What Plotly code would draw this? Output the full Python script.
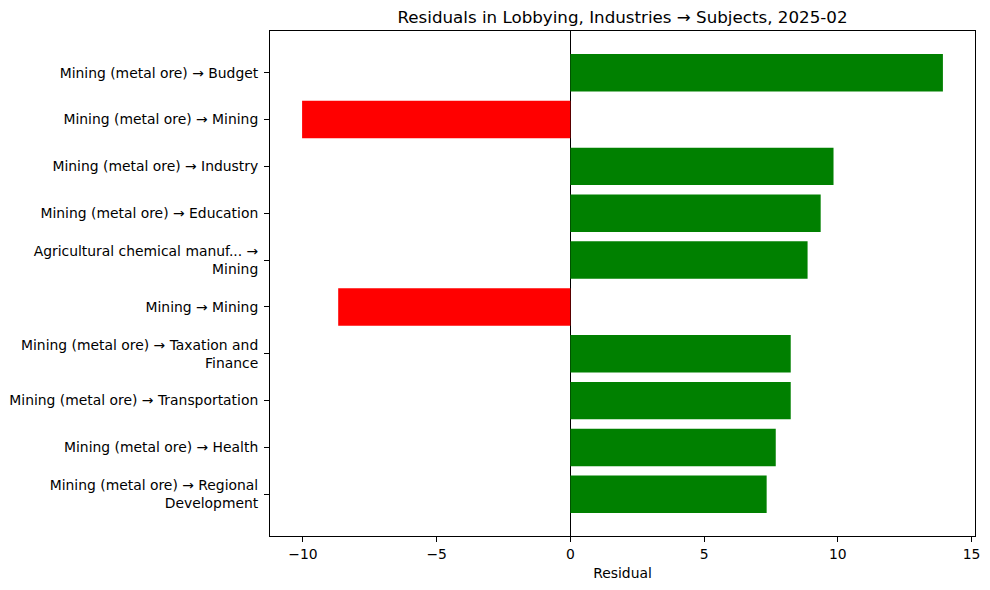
import plotly.graph_objects as go

# top to bottom, as drawn
labels = [
    'Mining (metal ore) → Budget',
    'Mining (metal ore) → Mining',
    'Mining (metal ore) → Industry',
    'Mining (metal ore) → Education',
    'Agricultural chemical manuf... →<br>Mining',
    'Mining → Mining',
    'Mining (metal ore) → Taxation and<br>Finance',
    'Mining (metal ore) → Transportation',
    'Mining (metal ore) → Health',
    'Mining (metal ore) → Regional<br>Development',
]
residuals = [13.93, -10.03, 9.84, 9.36, 8.87, -8.68, 8.24, 8.24, 7.68, 7.34]
tickVals = [-10, -5, 0, 5, 10, 15]
tickText = ['−10', '−5', '0', '5', '10', '15']

barColors = ['green' if r > 0 else 'red' for r in residuals]

fig = go.Figure()
fig.add_trace(go.Bar(x=residuals, y=list(range(len(labels))), orientation='h',
                     marker=dict(color=barColors, line=dict(width=0)),
                     width=0.8, showlegend=False))

fig.update_xaxes(range=[-11.23, 15.13], tickvals=tickVals, ticktext=tickText,
                 showgrid=False, zeroline=True, zerolinecolor='black', zerolinewidth=1,
                 showline=True, mirror=True, linecolor='black', linewidth=1,
                 ticks='outside', ticklen=5, tickcolor='black', automargin=False,
                 title=dict(text='Residual', standoff=7, font=dict(size=13.9)))
fig.update_yaxes(range=[9.89, -0.89], tickvals=list(range(len(labels))), ticktext=labels,
                 showgrid=False, zeroline=False, automargin=False,
                 showline=True, mirror=True, linecolor='black', linewidth=1,
                 ticks='outside', ticklen=5, tickcolor='black', ticklabelstandoff=3)

# page body has an 8px margin, so the figure is drawn a bit smaller
fig.update_layout(
    width=982, height=582,
    margin=dict(l=262, r=15, t=23, b=54),
    plot_bgcolor='white', paper_bgcolor='white',
    font=dict(family='DejaVu Sans', size=13.9, color='black'),
    title=dict(text='Residuals in Lobbying, Industries → Subjects, 2025-02',
               x=0.5, xref='paper', xanchor='center', y=0.984, yanchor='middle',
               font=dict(size=16.7)),
)

fig.write_html('out.html')
